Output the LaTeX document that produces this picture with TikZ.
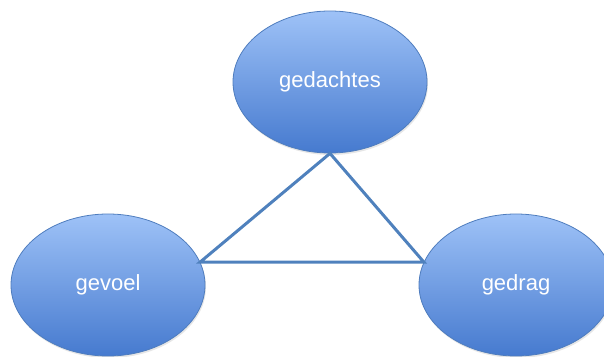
\documentclass[tikz,border=0pt]{standalone}
\usepackage{fontspec}
\setmainfont{Liberation Sans}
\usetikzlibrary{shapes.geometric, shadows}

\definecolor{bolTop}{RGB}{158,194,247}
\definecolor{bolBottom}{RGB}{70,122,207}
\definecolor{bolRand}{RGB}{79,125,190}
\definecolor{lijnBlauw}{RGB}{79,129,189}

\tikzset{
    bol/.style={ellipse, draw=bolRand, line width=0.8pt,
        top color=bolTop, bottom color=bolBottom,
        minimum width=194pt, minimum height=142pt,
        text=white, font=\fontsize{22}{26}\selectfont,
        drop shadow={opacity=0.2, shadow xshift=1pt, shadow yshift=-2pt}},
    verbinding/.style={draw=lijnBlauw, line width=3pt, line join=miter}
}

\begin{document}
\begin{tikzpicture}[x=1pt, y=1pt]

    % vaste afmetingen van de tekening
    \useasboundingbox (0,0) rectangle (604,356);

    % =================================================================
    % 1. DE DRIE BOLLEN
    % =================================================================
    \node[bol] (gedachtes) at (330,274) {gedachtes};
    \node[bol] (gevoel) at (108,71) {gevoel};
    \node[bol] (gedrag) at (516,71) {gedrag};

    % =================================================================
    % 2. DE DRIEHOEK TUSSEN DE BOLLEN
    % =================================================================
    \draw[verbinding] (gedachtes.south) -- (gevoel.14) -- (gedrag.166) -- cycle;

\end{tikzpicture}
\end{document}
